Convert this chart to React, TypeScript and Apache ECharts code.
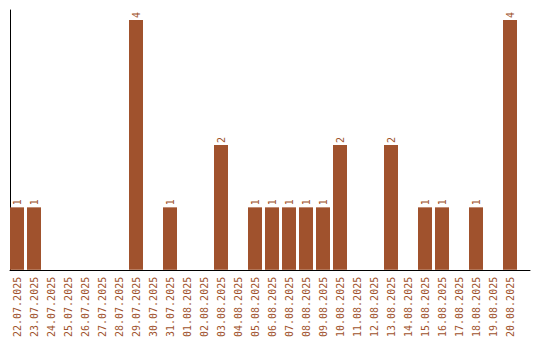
import React, { useEffect, useRef } from "react";
import * as echarts from "echarts";

const categories = [
  "22.07.2025", "23.07.2025", "24.07.2025", "25.07.2025", "26.07.2025",
  "27.07.2025", "28.07.2025", "29.07.2025", "30.07.2025", "31.07.2025",
  "01.08.2025", "02.08.2025", "03.08.2025", "04.08.2025", "05.08.2025",
  "06.08.2025", "07.08.2025", "08.08.2025", "09.08.2025", "10.08.2025",
  "11.08.2025", "12.08.2025", "13.08.2025", "14.08.2025", "15.08.2025",
  "16.08.2025", "17.08.2025", "18.08.2025", "19.08.2025", "20.08.2025",
];
const values = [
  1, 1, 0, 0, 0, 0, 0, 4, 0, 1,
  0, 0, 2, 0, 1, 1, 1, 1, 1, 2,
  0, 0, 2, 0, 1, 1, 0, 1, 0, 4,
];

const COLOR = "#a0522d";
const FONT = "'DejaVu Sans Mono', monospace";

export default function App() {
  const ref = useRef<HTMLDivElement>(null);
  useEffect(() => {
    if (!ref.current) return;
    const chart = echarts.init(ref.current, undefined, { renderer: "svg" });
    chart.setOption({
      animation: false,
      grid: [
        { left: 8.5, right: 21.5, top: 10, bottom: 70 },
        { left: 10, right: 10, top: 10, bottom: 70 },
      ],
      xAxis: [
        {
          type: "category",
          gridIndex: 0,
          data: categories,
          axisLine: { show: false },
          axisTick: { show: false },
          axisLabel: {
            rotate: 90,
            interval: 0,
            margin: 7,
            color: COLOR,
            fontFamily: FONT,
            fontSize: 10,
          },
        },
        {
          type: "value",
          gridIndex: 1,
          min: 0,
          max: 1,
          axisLine: { show: true, lineStyle: { color: "#000", width: 1 } },
          axisTick: { show: false },
          axisLabel: { show: false },
          splitLine: { show: false },
        },
      ],
      yAxis: [
        {
          type: "value",
          gridIndex: 0,
          min: 0,
          max: 4.16,
          show: false,
          splitLine: { show: false },
        },
        {
          type: "value",
          gridIndex: 1,
          min: 0,
          max: 1,
          axisLine: { show: true, lineStyle: { color: "#000", width: 1 } },
          axisTick: { show: false },
          axisLabel: { show: false },
          splitLine: { show: false },
        },
      ],
      series: [
        {
          type: "bar",
          xAxisIndex: 0,
          yAxisIndex: 0,
          data: values,
          barWidth: 14,
          itemStyle: { color: COLOR },
          label: {
            show: true,
            position: "top",
            rotate: 90,
            align: "left",
            verticalAlign: "middle",
            distance: 2,
            color: COLOR,
            fontFamily: FONT,
            fontSize: 10,
            formatter: (p: any) => (p.value > 0 ? String(p.value) : ""),
          },
        },
      ],
    });
    return () => chart.dispose();
  }, []);
  return <div ref={ref} style={{ width: 540, height: 340, position: "absolute", left: 0, top: 0 }} />;
}
